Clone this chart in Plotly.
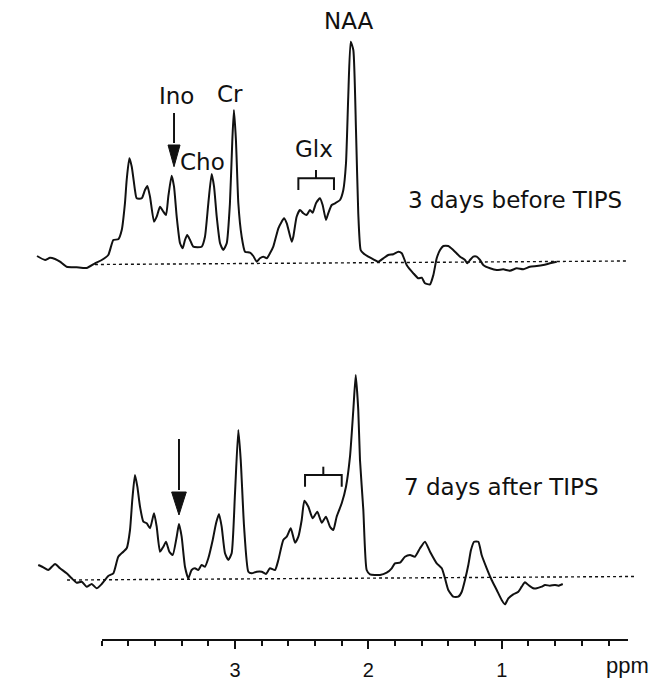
import plotly.graph_objects as go

# ---- Spectrum 1: 3 days before TIPS (ppm, intensity a.u.) ----
ppm_before = [4.484, 4.424, 4.387, 4.349, 4.312, 4.262, 4.187, 4.112, 4.050, 3.999,
              3.950, 3.912, 3.875, 3.849, 3.825, 3.812, 3.792, 3.774, 3.750, 3.737,
              3.699, 3.675, 3.657, 3.637, 3.607, 3.587, 3.562, 3.537, 3.517, 3.500,
              3.475, 3.457, 3.437, 3.412, 3.392, 3.375, 3.358, 3.337, 3.313, 3.250,
              3.225, 3.200, 3.175, 3.157, 3.137, 3.112, 3.088, 3.062, 3.038, 3.020,
              3.008, 2.993, 2.975, 2.950, 2.925, 2.888, 2.863, 2.837, 2.813, 2.788,
              2.762, 2.738, 2.713, 2.675, 2.650, 2.633, 2.612, 2.575, 2.563, 2.538,
              2.513, 2.488, 2.463, 2.438, 2.418, 2.393, 2.363, 2.343, 2.318, 2.301,
              2.275, 2.250, 2.213, 2.188, 2.168, 2.151, 2.133, 2.113, 2.093, 2.076,
              2.058, 2.038, 2.001, 1.963, 1.926, 1.888, 1.851, 1.813, 1.776, 1.750,
              1.713, 1.663, 1.626, 1.600, 1.576, 1.538, 1.513, 1.488, 1.463, 1.438,
              1.401, 1.364, 1.313, 1.276, 1.259, 1.238, 1.214, 1.188, 1.163, 1.139,
              1.088, 1.038, 0.989, 0.939, 0.888, 0.839, 0.789, 0.738, 0.689, 0.639,
              0.588]
int_before = [6.5, 2.5, 4.8, 3.5, 0.8, -4.2, -4.8, -5.5, -0.8, 2.5,
              7.5, 22.5, 23.2, 32.5, 59.2, 82.5, 104.2, 95.8, 72.5, 64.2,
              64.2, 72.5, 76.5, 65.8, 40.8, 45.8, 55.8, 50.8, 47.5, 65.8,
              86.8, 75.8, 45.8, 19.2, 14.2, 22.5, 27.5, 22.5, 15.8, 15.8,
              25.8, 59.2, 88.5, 75.8, 45.8, 19.2, 12.5, 19.2, 59.2, 122.5,
              152.5, 122.5, 59.2, 25.8, 10.8, 9.8, 6.5, 0.8, 4.2, 5.8,
              4.2, 9.2, 15.8, 34.2, 40.8, 44.2, 39.2, 20.8, 25.8, 45.8,
              52.5, 49.2, 47.5, 52.5, 49.8, 59.2, 64.2, 57.5, 42.5, 49.2,
              57.5, 59.2, 62.5, 72.5, 99.2, 165.8, 220.8, 212.5, 132.5, 49.2,
              12.5, 9.2, 5.8, 3.2, 0.8, 4.2, 7.5, 8.2, 10.8, 9.2,
              -2.5, -10.8, -15.8, -15.2, -20.8, -21.8, -12.5, 4.2, 12.5, 16.5,
              16.5, 12.5, 5.8, 2.5, -0.8, 2.5, 5.8, 5.8, 2.5, -2.5,
              -5.8, -7.5, -6.8, -8.2, -5.8, -6.8, -4.2, -3.5, -2.5, -0.8,
              0.8]

# ---- Spectrum 2: 7 days after TIPS ----
ppm_after = [4.475, 4.437, 4.400, 4.349, 4.312, 4.262, 4.224, 4.187, 4.149, 4.112,
             4.074, 4.037, 3.999, 3.950, 3.912, 3.875, 3.837, 3.812, 3.787, 3.770,
             3.750, 3.732, 3.712, 3.687, 3.662, 3.637, 3.607, 3.587, 3.562, 3.537,
             3.517, 3.492, 3.467, 3.437, 3.420, 3.400, 3.375, 3.350, 3.325, 3.300,
             3.275, 3.250, 3.225, 3.200, 3.167, 3.142, 3.120, 3.100, 3.075, 3.050,
             3.025, 3.000, 2.975, 2.957, 2.932, 2.900, 2.875, 2.837, 2.800, 2.768,
             2.738, 2.700, 2.675, 2.638, 2.612, 2.582, 2.550, 2.525, 2.500, 2.480,
             2.450, 2.418, 2.383, 2.350, 2.318, 2.288, 2.263, 2.238, 2.200, 2.168,
             2.138, 2.113, 2.095, 2.076, 2.063, 2.038, 2.013, 1.988, 1.913, 1.863,
             1.825, 1.801, 1.763, 1.726, 1.688, 1.651, 1.613, 1.576, 1.538, 1.488,
             1.450, 1.426, 1.401, 1.364, 1.326, 1.300, 1.276, 1.251, 1.231, 1.208,
             1.176, 1.151, 1.113, 1.076, 1.038, 1.001, 0.976, 0.951, 0.914, 0.876,
             0.851, 0.826, 0.801, 0.764, 0.738, 0.701, 0.676, 0.639, 0.601, 0.576,
             0.543]
int_after = [13, 10.7, 8, 14, 9.7, 4.7, -0.3, -4.7, -3.7, -8.7,
             -6, -10.3, -6, 2, 4.7, 21.3, 26.3, 29.7, 48, 78,
             103, 91.3, 71.3, 56.3, 54.7, 49.7, 64.7, 51.3, 26.3, 31.3,
             36.3, 26.3, 23, 41.3, 54, 41.3, 11.3, -0.3, 8, 9.7,
             8, 13, 11.3, 19.7, 38, 54.7, 64, 51.3, 24.7, 18,
             24.7, 84.7, 148, 118, 51.3, 6.3, 4.7, 6.3, 6.3, 4,
             9.7, 8, 18, 38, 41.3, 49.7, 35.3, 41.3, 58, 77.3,
             71.3, 59.7, 66.3, 55.3, 61.3, 51.3, 48, 61.3, 74.7, 91.3,
             121.3, 168, 203, 168, 118, 68, 8, 3.7, 3, 5.3,
             9.7, 14.7, 15.3, 21.3, 23, 21.3, 29.7, 36.3, 26.3, 14.7,
             9.7, -0.3, -12, -18.7, -18.7, -13.7, -2, 13, 28, 36.3,
             36.3, 23, 9.7, -2, -12, -22, -26.3, -20.3, -16.3, -13.7,
             -8.7, -4.3, -7, -10.3, -10.3, -8.7, -7, -7.7, -7, -7.7,
             -6]

# dotted reference baselines (ppm end points, intensity at the ends)
base_before_ppm = [4.050, 0.054]
base_before_int = [-2.0, 1.5]
base_after_ppm = [4.259, 0.009]
base_after_int = [-2.0, 1.5]

offset_before = 418.5
offset_after = 103.0

axis_major = [3, 2, 1]
axis_labels = ["3", "2", "1"]

BLACK = "#111111"

# page body has an 8px margin: the figure covers reference pixels 8..669 / 8..681
PAGE = 8
W = 669 - PAGE
H = 681 - PAGE
PX_PER_PPM = 133.4
PPM_AT_PX0 = 4.7616


def ppm_at(px):
    return PPM_AT_PX0 - px / PX_PER_PPM


fig = go.Figure()


def add_spec(p, v, off):
    fig.add_trace(go.Scatter(x=p, y=[off + a for a in v], mode="lines",
                             line=dict(color=BLACK, width=2, shape="spline", smoothing=0.5),
                             hoverinfo="skip", showlegend=False))


def add_base(p, v, off):
    fig.add_trace(go.Scatter(x=p, y=[off + a for a in v], mode="lines",
                             line=dict(color=BLACK, width=1.4, dash="3px,3px"),
                             hoverinfo="skip", showlegend=False))


add_base(base_before_ppm, base_before_int, offset_before)
add_base(base_after_ppm, base_after_int, offset_after)
add_spec(ppm_before, int_before, offset_before)
add_spec(ppm_after, int_after, offset_after)

# invisible trace to create the ppm scale axis
fig.add_trace(go.Scatter(x=[2.0], y=[0], xaxis="x2", yaxis="y", mode="markers",
                         marker=dict(opacity=0), hoverinfo="skip", showlegend=False))


# arrows (Ino)
def arrow(x, ytop, ybase, ytip, hw):
    fig.add_shape(type="line", x0=x, x1=x, y0=ytop, y1=ybase + 2, xref="x", yref="y",
                  line=dict(color=BLACK, width=2))
    fig.add_shape(type="path",
                  path=f"M {x-hw},{ybase} L {x+hw},{ybase} L {x},{ytip} Z",
                  xref="x", yref="y", fillcolor=BLACK, line=dict(color=BLACK, width=1))


arrow(3.457, 568, 536, 514.3, 0.045)
arrow(3.420, 242, 189, 166, 0.055)


# Glx brackets
def bracket(xl, xr, xc, yh, yend, yup):
    fig.add_shape(type="path",
                  path=f"M {xl},{yend} L {xl},{yh} L {xr},{yh} L {xr},{yend}",
                  xref="x", yref="y", line=dict(color=BLACK, width=2))
    fig.add_shape(type="line", x0=xc, x1=xc, y0=yh, y1=yup, xref="x", yref="y",
                  line=dict(color=BLACK, width=2))


bracket(2.525, 2.258, 2.393, 502.7, 491, 511)
bracket(2.475, 2.200, 2.338, 206, 194.3, 214.3)

LBL = dict(family="DejaVu Sans", size=23, color=BLACK)
labels = [("NAA", 2.145, 660), ("Ino", 3.435, 585), ("Cr", 3.037, 587),
          ("Cho", 3.240, 519), ("Glx", 2.408, 532),
          ("3 days before TIPS", 0.901, 481), ("7 days after TIPS", 1.000, 194)]
for t, x, y in labels:
    fig.add_annotation(text=t, x=x, y=y, xref="x", yref="y", showarrow=False,
                       font=LBL, xanchor="center", yanchor="middle")

fig.add_annotation(text="ppm", x=0.061, y=16, xref="x", yref="y", showarrow=False,
                   font=dict(family="Liberation Sans", size=22, color=BLACK),
                   xanchor="center", yanchor="middle")

fig.update_layout(
    width=W, height=H,
    margin=dict(l=0, r=0, t=0, b=0, pad=0),
    paper_bgcolor="white", plot_bgcolor="rgba(0,0,0,0)",
    xaxis=dict(range=[ppm_at(PAGE), ppm_at(669)], visible=False, domain=[0, 1]),
    yaxis=dict(range=[0, H], visible=False, domain=[0, 1]),
    xaxis2=dict(range=[4.0, 0.054], domain=[(101.6 - PAGE) / W, (628 - PAGE) / W],
                anchor="free", position=(681 - 640) / H, side="bottom",
                showline=True, linecolor=BLACK, linewidth=2,
                showgrid=False, zeroline=False,
                ticks="outside", ticklen=8, tickwidth=2, tickcolor=BLACK,
                tickvals=axis_major, ticktext=axis_labels,
                tickfont=dict(family="Liberation Sans", size=20, color=BLACK),
                ticklabelstandoff=4,
                minor=dict(ticks="outside", dtick=0.2, tick0=0, ticklen=5,
                           tickwidth=1.5, tickcolor=BLACK, showgrid=False)),
    showlegend=False,
)

fig.write_html("out.html")
